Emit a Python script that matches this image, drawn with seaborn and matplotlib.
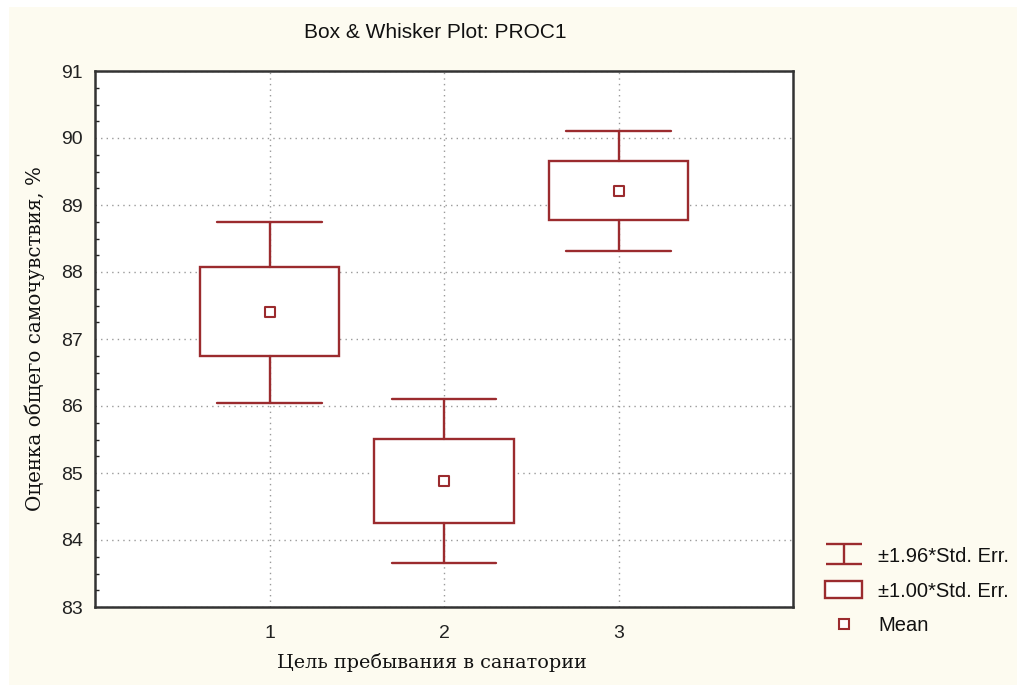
import numpy as np
import seaborn as sns
import matplotlib.pyplot as plt
from matplotlib.patches import Rectangle, Patch
from matplotlib.lines import Line2D
from matplotlib.ticker import MultipleLocator

# Group summaries: mean, mean ± 1 SE (box) and mean ± 1.96 SE (whiskers)
groups = [1, 2, 3]
means = [87.41, 84.88, 89.21]
se_low = [86.75, 84.25, 88.78]
se_high = [88.07, 85.51, 89.66]
ci_low = [86.05, 83.65, 88.31]
ci_high = [88.75, 86.10, 90.10]

title = "Box & Whisker Plot: PROC1"
xlabel = "Цель пребывания в санатории"
ylabel = "Оценка общего самочувствия, %"
legend_labels = ["±1.96*Std. Err.", "±1.00*Std. Err.", "Mean"]
y_ticks = [83, 84, 85, 86, 87, 88, 89, 90, 91]

RED = "#9b2b2e"
CREAM = "#fdfbf0"
W, H = 1017, 685

sns.set_theme(style="white")
plt.rcParams["font.family"] = ["Liberation Sans", "DejaVu Sans"]

fig = plt.figure(figsize=(W / 100, H / 100), dpi=100)
fig.patch.set_facecolor("white")
fig.add_artist(Rectangle((9 / W, 0), 1, 1 - 7 / H, transform=fig.transFigure,
                         facecolor=CREAM, edgecolor="none", zorder=-10))

ax = fig.add_axes([95 / W, 1 - 607 / H, (793 - 95) / W, (607 - 71) / H])
ax.set_facecolor("white")

stats = [dict(med=m, mean=m, q1=lo, q3=hi, whislo=wl, whishi=wh, fliers=[])
         for m, lo, hi, wl, wh in zip(means, se_low, se_high, ci_low, ci_high)]
lw = 1.7
ax.bxp(stats, positions=groups, widths=0.8, capwidths=0.6, patch_artist=True,
       showfliers=False, showmeans=False,
       boxprops=dict(facecolor="white", edgecolor=RED, linewidth=lw),
       whiskerprops=dict(color=RED, linewidth=lw),
       capprops=dict(color=RED, linewidth=lw),
       medianprops=dict(linewidth=0), zorder=3)

sns.scatterplot(x=groups, y=means, marker="s", s=42, color="white",
                edgecolor=RED, linewidth=1.5, ax=ax, zorder=5, legend=False)

ax.set_xlim(0, 4)
ax.set_ylim(83, 91)
ax.set_xticks(groups)
ax.set_xticklabels([str(g) for g in groups])
ax.set_yticks(y_ticks)
ax.yaxis.set_minor_locator(MultipleLocator(0.25))
ax.grid(True, which="major", linestyle=(0, (1, 3)), color="#9a9a9a", linewidth=1)
ax.set_axisbelow(True)
ax.tick_params(axis="both", which="major", direction="in", length=5, width=1,
               colors="#222222", labelsize=14, pad=9)
ax.tick_params(axis="y", which="minor", direction="in", length=3, width=1,
               colors="#222222", left=True)
ax.tick_params(axis="x", which="major", pad=13)
for sp in ax.spines.values():
    sp.set_color("#333333")
    sp.set_linewidth(1.8)

serif = ["DejaVu Serif"]
ax.set_xlabel(xlabel, fontsize=13.8, family=serif, color="#111111")
ax.set_ylabel(ylabel, fontsize=14.3, family=serif, color="#111111")
ax.xaxis.set_label_coords((432 - 95) / (793 - 95), -(663 - 607) / (607 - 71))
ax.yaxis.set_label_coords(-(95 - 35) / (793 - 95), 0.5)
ax.xaxis.label.set_va("center")
ax.yaxis.label.set_va("center")

fig.text(435 / W, 1 - 33 / H, title, ha="center", va="center",
         fontsize=15, color="#111111")

eb = ax.errorbar([np.nan], [np.nan], yerr=[1], fmt="none", ecolor=RED,
                 elinewidth=lw, capsize=13.3, capthick=lw)
handles = [
    eb,
    Patch(facecolor="white", edgecolor=RED, linewidth=lw),
    Line2D([], [], marker="s", linestyle="none", markerfacecolor="white",
           markeredgecolor=RED, markersize=6.5, markeredgewidth=1.5),
]
fig.legend(handles, legend_labels, loc="center left",
           bbox_to_anchor=(825 / W, 1 - 591 / H), frameon=False, fontsize=14.5,
           borderpad=0, borderaxespad=0,
           handlelength=1.85, handleheight=0.85, labelspacing=0.78,
           handletextpad=0.8, labelcolor="#111111")

fig.savefig("out.png", dpi=100, facecolor=fig.get_facecolor())
